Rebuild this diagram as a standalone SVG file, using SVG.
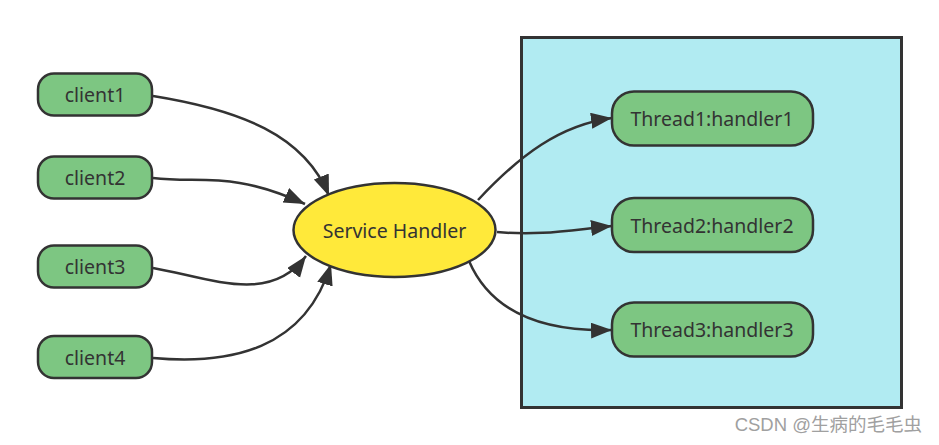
<svg xmlns="http://www.w3.org/2000/svg" width="939" height="445" viewBox="0 0 939 445">
<style>
.node rect,.node ellipse{stroke:#333;stroke-width:2.5}
.client rect,.thread rect{fill:#7dc682}
.lbl{font-family:"Noto Sans","Open Sans","Liberation Sans",sans-serif;font-size:19.5px;fill:#333;text-anchor:middle;dominant-baseline:central}
.edge{fill:none;stroke:#333;stroke-width:2.5;marker-end:url(#arr)}
</style>
<defs>
<marker id="arr" markerUnits="userSpaceOnUse" markerWidth="24" markerHeight="18" refX="21" refY="8" orient="auto">
<path d="M0,0 L21,8 L0,16 z" fill="#333"/>
</marker>
</defs>
<rect width="939" height="445" fill="#fff"/>
<g id="container">
<rect x="521.5" y="37.5" width="380" height="370" fill="#b1ebf2" stroke="#333" stroke-width="3"/>
</g>
<g id="edges">
<path class="edge" d="M153 96 C 240 110, 305 135, 329 196"/>
<path class="edge" d="M153 178 C 200 184, 230 170, 305 204"/>
<path class="edge" d="M153 268 C 210 278, 270 305, 306 256"/>
<path class="edge" d="M153 358 C 230 365, 305 350, 331 264"/>
<path class="edge" d="M478 200 C 520 155, 560 125, 612 118"/>
<path class="edge" d="M497 232 C 540 236, 570 230, 612 226"/>
<path class="edge" d="M469 261 C 490 310, 540 332, 612 330"/>
</g>
<g id="client1" class="node client"><rect x="38" y="73.5" width="114" height="42" rx="16"/><text class="lbl" x="95" y="94">client1</text></g>
<g id="client2" class="node client"><rect x="38" y="156.5" width="114" height="42" rx="16"/><text class="lbl" x="95" y="177">client2</text></g>
<g id="client3" class="node client"><rect x="38" y="245.5" width="114" height="42" rx="16"/><text class="lbl" x="95" y="266">client3</text></g>
<g id="client4" class="node client"><rect x="38" y="336" width="114" height="42" rx="16"/><text class="lbl" x="95" y="357">client4</text></g>
<g id="service" class="node"><ellipse cx="394.5" cy="230" rx="101" ry="47" fill="#ffe93a"/><text class="lbl" x="394.5" y="230">Service Handler</text></g>
<g id="thread1" class="node thread"><rect x="612" y="91.5" width="201" height="54" rx="22"/><text class="lbl" x="712" y="118">Thread1:handler1</text></g>
<g id="thread2" class="node thread"><rect x="612" y="198" width="201" height="54" rx="22"/><text class="lbl" x="712" y="225">Thread2:handler2</text></g>
<g id="thread3" class="node thread"><rect x="612" y="302.5" width="201" height="54" rx="22"/><text class="lbl" x="712" y="329">Thread3:handler3</text></g>
<text x="922" y="431" font-family="'Liberation Sans','Noto Sans CJK SC',sans-serif" font-size="18.5" fill="#a0a0a0" text-anchor="end">CSDN @生病的毛毛虫</text>
</svg>
